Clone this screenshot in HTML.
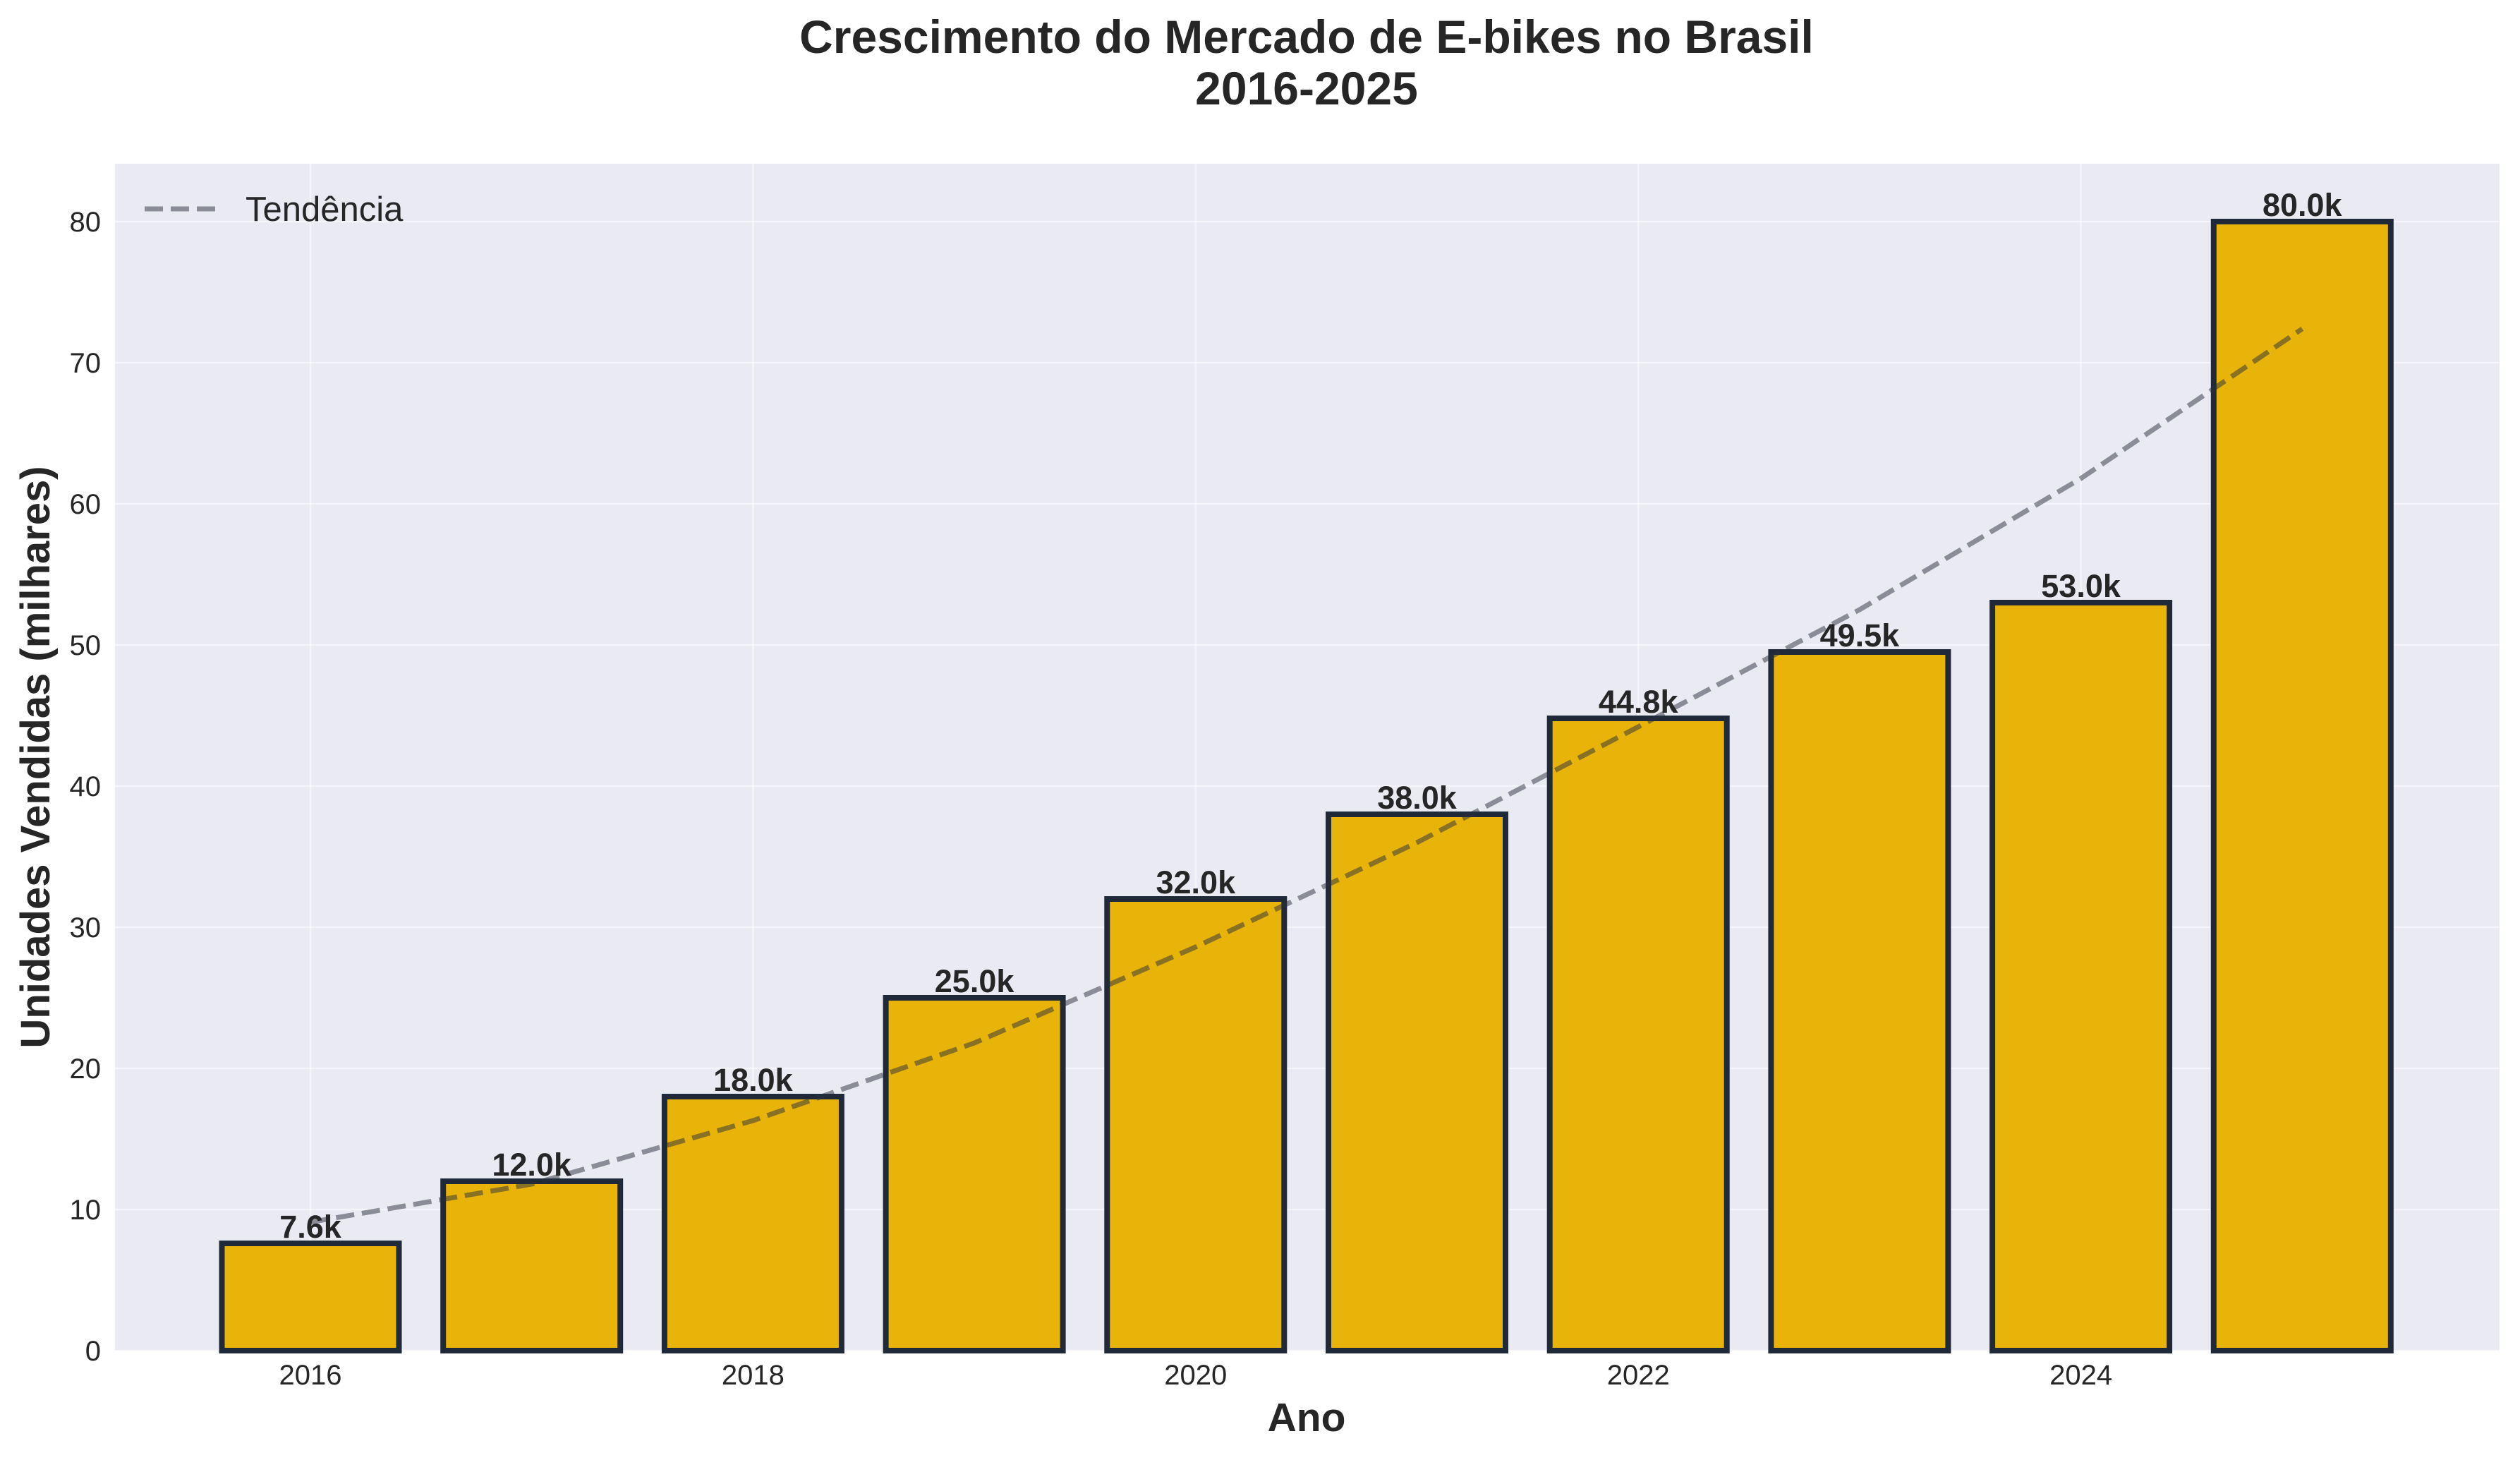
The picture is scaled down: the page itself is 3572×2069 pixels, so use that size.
<!DOCTYPE html>
<html><head><meta charset="utf-8"><style>
html,body{margin:0;padding:0;background:#fff}
svg{display:block;font-family:"Liberation Sans",sans-serif}
</style></head><body>
<svg id="chart" width="3572" height="2069" viewBox="0 0 3572 2069" xmlns="http://www.w3.org/2000/svg">
<text x="1852" y="75" text-anchor="middle" font-size="66" font-weight="bold" fill="#262626">Crescimento do Mercado de E-bikes no Brasil</text>
<text x="1852" y="148" text-anchor="middle" font-size="66" font-weight="bold" fill="#262626">2016-2025</text>
<rect x="163" y="232" width="3380" height="1682" fill="#eaeaf2"/>
<g id="grid"></g>
<g id="bars"></g>
<g id="trend"></g>
<g id="labels"></g>
<g id="ticks"></g>
<text x="1852" y="2028" text-anchor="middle" font-size="57" font-weight="bold" fill="#262626">Ano</text>
<text transform="translate(70,1073) rotate(-90)" text-anchor="middle" font-size="58" font-weight="bold" fill="#262626">Unidades Vendidas (milhares)</text>
<g>
<line x1="205" y1="296" x2="310" y2="296" stroke="#2a2d3e" stroke-opacity="0.5" stroke-width="7" stroke-dasharray="26,11"/>
<text x="348" y="313" font-size="49" fill="#262626">Tendência</text>
</g>
</svg>
<script>
const years = [2016,2017,2018,2019,2020,2021,2022,2023,2024,2025];
const sales = [7.6,12.0,18.0,25.0,32.0,38.0,44.8,49.5,53.0,80.0];
const trend = [9.1,11.8,16.3,21.8,28.6,36.0,44.2,52.5,61.8,72.4];
const yTicks = [0,10,20,30,40,50,60,70,80];
const xTicks = [2016,2018,2020,2022,2024];
const NS='http://www.w3.org/2000/svg';
const X=v=>440+(v-2016)*313.7;
const Y=v=>1914-v*20;
const L=163,R=3543,T=232,B=1914;
function mk(t,a,p){const e=document.createElementNS(NS,t);for(const k in a)e.setAttribute(k,a[k]);document.getElementById(p).appendChild(e);return e;}
yTicks.forEach(v=>{
  const g=mk('line',{x1:L,x2:R,y1:Y(v),y2:Y(v),stroke:'#fff','stroke-opacity':0.5,'stroke-width':2.5},'grid');
  
  
  const t=mk('text',{x:143,y:Y(v)+14,'text-anchor':'end','font-size':40,fill:'#262626'},'ticks');
  t.textContent=v;
  
  
});
xTicks.forEach(v=>{
  const g=mk('line',{x1:X(v),x2:X(v),y1:T,y2:B,stroke:'#fff','stroke-opacity':0.5,'stroke-width':2.5},'grid');
  
  
  const t=mk('text',{x:X(v),y:1962,'text-anchor':'middle','font-size':40,fill:'#262626'},'ticks');
  t.textContent=v;
  
  
});
const bw=251;
years.forEach((yr,i)=>{
  const b=mk('rect',{x:X(yr)-bw/2,y:Y(sales[i]),width:bw,height:Y(0)-Y(sales[i]),fill:'#e8b40a',stroke:'#1f2937','stroke-width':8},'bars');
  
  
  const t=mk('text',{x:X(yr),y:Y(sales[i])-8,'text-anchor':'middle','font-size':45,'font-weight':'bold',fill:'#262626'},'labels');
  t.textContent=sales[i].toFixed(1)+'k';
  
  
});
const pts=years.map((yr,i)=>X(yr)+','+Y(trend[i])).join(' ');
const pl=mk('polyline',{points:pts,fill:'none',stroke:'#2a2d3e','stroke-opacity':0.5,'stroke-width':7,'stroke-dasharray':'26,11'},'trend');


</script>
</body></html>
